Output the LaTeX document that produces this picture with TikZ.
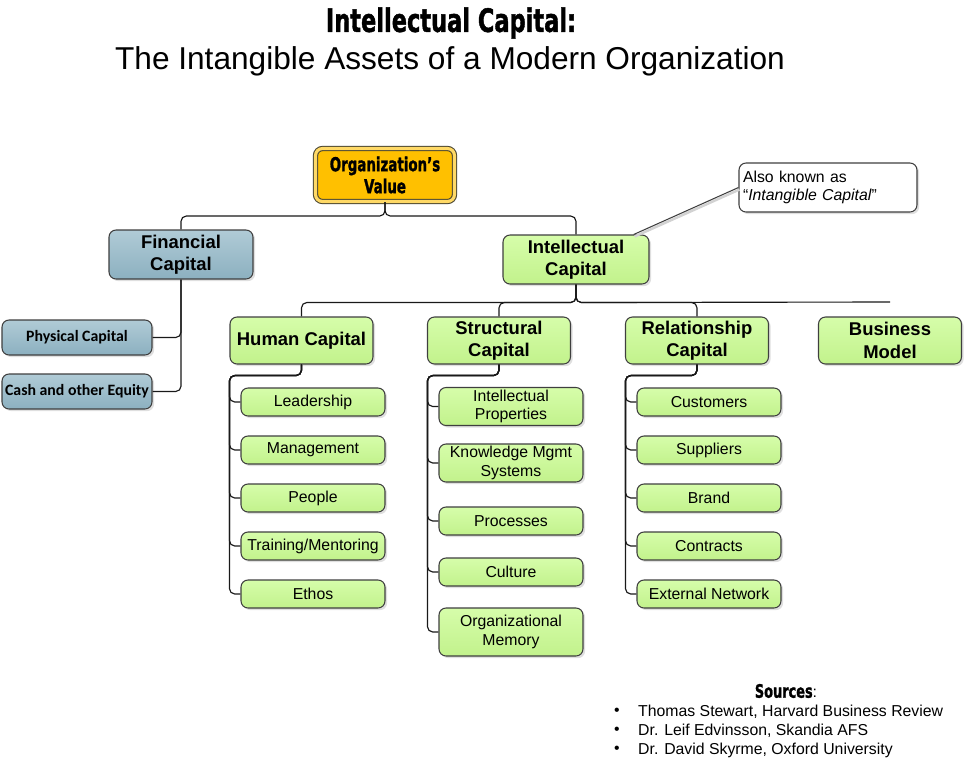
\documentclass[tikz,border=0pt]{standalone}
\usepackage{fontspec}
\setmainfont{Liberation Sans}
\newfontfamily\calib{Carlito}
\newfontfamily\heavy{DejaVu Sans}[BoldFeatures={FakeBold=1.6}]
\usetikzlibrary{calc,shadows}

\definecolor{boxline}{HTML}{3F3F3F}
\definecolor{greentop}{HTML}{D6FDAA}
\definecolor{greenbot}{HTML}{C2F28C}
\definecolor{bluetop}{HTML}{B0CBD6}
\definecolor{bluebot}{HTML}{8CB0C0}
\definecolor{gold}{HTML}{FFC000}
\definecolor{goldline}{HTML}{4A4530}

\newcommand{\heavytext}[1]{\scalebox{0.7}[1]{\heavy\bfseries #1}}

\tikzset{
  box/.style={draw=boxline, line width=0.6pt, rounded corners=4pt, align=center, inner sep=1pt,
    drop shadow={shadow xshift=1.2pt, shadow yshift=-1.2pt, opacity=0.25}},
  greenbox/.style={box, top color=greentop, bottom color=greenbot},
  bluebox/.style={box, top color=bluetop, bottom color=bluebot},
  head/.style={greenbox, minimum width=2.86cm, minimum height=0.94cm,
    font=\fontsize{10.5}{12.8}\selectfont\bfseries},
  leaf/.style={greenbox, minimum width=2.88cm, minimum height=0.56cm,
    font=\fontsize{9}{10.4}\selectfont},
  conn/.style={draw=black!90, line width=0.65pt, rounded corners=3pt},
}

\begin{document}
\begin{tikzpicture}[x=0.02cm,y=-0.02cm]
\useasboundingbox (0,0) rectangle (965,762);

% titles
\node (title) at (451,23) {\fontsize{18.3}{20}\selectfont\heavytext{Intellectual Capital:}};
\node (subtitle) at (450,61) {\fontsize{18}{20}\selectfont The Intangible Assets of a Modern Organization};

% top of the tree
\node[box, fill=gold, draw=goldline, double=gold!60!white, double distance=1.8pt,
  minimum width=2.78cm, minimum height=1.06cm, font=\fontsize{10.9}{12.5}\selectfont]
  (org) at (385,175) {\heavytext{Organization’s}\\\heavytext{Value}};
\node[bluebox, minimum width=2.88cm, minimum height=0.98cm,
  font=\fontsize{10.5}{12.8}\selectfont\bfseries] (fin) at (181,254.5) {Financial\\Capital};
\node[head, minimum width=2.92cm, minimum height=0.98cm] (intel) at (576,259.5) {Intellectual\\Capital};
\node[draw=boxline, fill=white, line width=0.6pt, rounded corners=4pt, align=left,
  text width=3.4cm, inner xsep=0.08cm, minimum height=0.98cm, font=\fontsize{9}{10}\selectfont,
  drop shadow={shadow xshift=1.2pt, shadow yshift=-1.2pt, opacity=0.25}]
  (note) at (828,187.5) {Also known as\\“\textit{Intangible Capital}”};
\coordinate (notetip) at ([xshift=-9pt]intel.north east);

\draw[conn] (org.south) -- ++(0,14) -| (fin.north);
\draw[conn] (org.south) -- ++(0,14) -| (intel.north);
\draw[gray!35, line width=1.4pt] ([shift={(1,2)}]note.west) -- ([shift={(1,2)}]notetip);
\draw[boxline, line width=0.6pt] (note.west) -- (notetip);

% financial side
\node[bluebox, minimum width=3cm, minimum height=0.7cm, font=\calib\fontsize{9}{10.8}\selectfont\bfseries]
  (phys) at (77,337.5) {Physical Capital};
\node[bluebox, minimum width=3cm, minimum height=0.7cm, font=\calib\fontsize{9}{10.8}\selectfont\bfseries]
  (cash) at (77,391.5) {Cash and other Equity};
\draw[conn] (fin.south) |- (phys.east);
\draw[conn] (fin.south) |- (cash.east);

% intellectual side
\node[head] (hum) at (301.5,340.5) {Human Capital};
\node[head] (str) at (499,340.5) {Structural\\Capital};
\node[head] (rel) at (697,340.5) {Relationship\\Capital};
\node[head] (bmod) at (890,340.5) {Business\\Model};
\coordinate (busend) at (890,302);

\foreach \n in {hum,str,rel}
  \draw[conn] (intel.south) -- ++(0,18) -| (\n.north);
\draw[conn] (intel.south) -- ++(0,18) -- (busend);

% human capital
\foreach \n/\y/\t in {hl/402/Leadership, hm/450/Management, hp/498/People,
    ht/546/{Training/Mentoring}, he/594/Ethos} {
  \node[leaf] (\n) at (313,\y) {\t};
  \draw[conn] (hum.south) -- ++(0,11) -| ($(\n.west)+(-11,0)$) -- (\n.west);
}

% structural capital
\foreach \n/\y/\h/\t in {sip/406.5/0.76/{Intellectual\\Properties}, skm/463/0.76/{Knowledge Mgmt\\Systems},
    spr/521/0.56/Processes, scu/572/0.56/Culture, som/632/0.96/{Organizational\\Memory}} {
  \node[leaf, minimum height=\h cm] (\n) at (511,\y) {\t};
  \draw[conn] (str.south) -- ++(0,11) -| ($(\n.west)+(-11,0)$) -- (\n.west);
}

% relationship capital
\foreach \n/\y/\t in {rcu/402/Customers, rsu/450/Suppliers, rbr/498/Brand,
    rco/546/Contracts, ren/594/External Network} {
  \node[leaf] (\n) at (709,\y) {\t};
  \draw[conn] (rel.south) -- ++(0,11) -| ($(\n.west)+(-11,0)$) -- (\n.west);
}

% sources
\node (src) at (786,691) {\fontsize{10.5}{12}\selectfont\heavytext{Sources}\fontsize{9}{11}\selectfont:};
\foreach \t [count=\i, evaluate=\i as \y using 693+19*\i] in {{Thomas Stewart, Harvard Business Review},
    {Dr. Leif Edvinsson, Skandia AFS}, {Dr. David Skyrme, Oxford University}} {
  \node[font=\fontsize{9}{11}\selectfont] (b\i) at (617,\y) {•};
  \node[anchor=west, font=\fontsize{9}{11}\selectfont] (s\i) at (632,\y) {\t};
}
\end{tikzpicture}
\end{document}
